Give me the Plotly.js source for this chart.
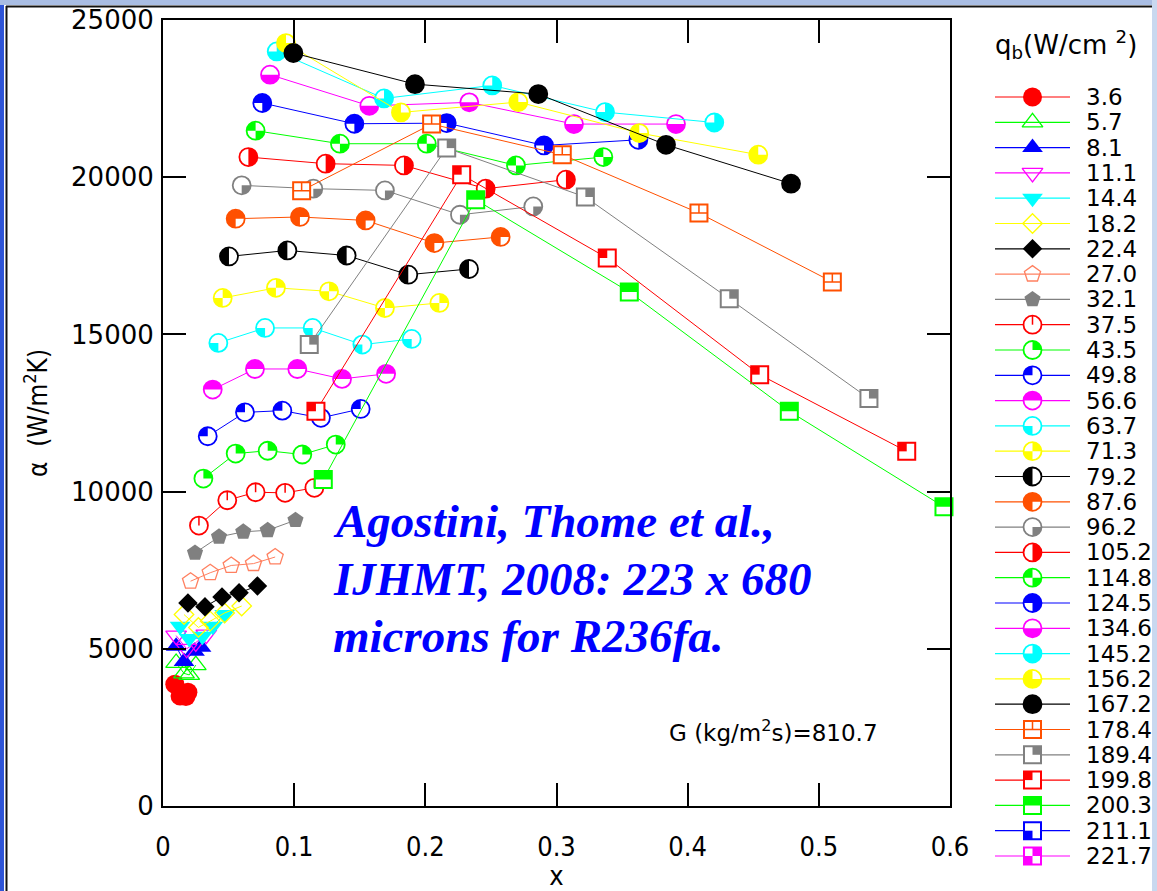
<!DOCTYPE html>
<html>
<head>
<meta charset="utf-8">
<script src="https://cdn.plot.ly/plotly-3.0.1.min.js"></script>
<style>
  html, body { margin: 0; padding: 0; background: #ffffff; }
  #chart { width: 1157px; height: 891px; }
</style>
</head>
<body>
<div id="chart"></div>
<script>
// Heat flux q_b (W/cm^2) of each data set, as printed in the key
const qLabels = ['3.6','5.7','8.1','11.1','14.4','18.2','22.4','27.0','32.1','37.5','43.5','49.8','56.6','63.7','71.3','79.2','87.6','96.2','105.2','114.8','124.5','134.6','145.2','156.2','167.2','178.4','189.4','199.8','200.3','211.1','221.7'];

// Vapour quality x and heat transfer coefficient alpha (W/m2K), one pair per heat flux
const x_3_6   = [0.009, 0.013, 0.0175, 0.019];
const a_3_6   = [3870, 3500, 3480, 3620];
const x_5_7   = [0.010, 0.016, 0.020, 0.025];
const a_5_7   = [4550, 4220, 4170, 4480];
const x_8_1   = [0.010, 0.016, 0.024, 0.029];
const a_8_1   = [5080, 4600, 4920, 5050];
const x_11_1  = [0.010, 0.018, 0.025, 0.033];
const a_11_1  = [5420, 5000, 5200, 5450];
const x_14_4  = [0.013, 0.020, 0.030, 0.038, 0.047];
const a_14_4  = [5720, 5330, 5400, 5720, 6090];
const x_18_2  = [0.016, 0.027, 0.036, 0.047, 0.060];
const a_18_2  = [6090, 5680, 5880, 6140, 6360];
const x_22_4  = [0.019, 0.032, 0.045, 0.058, 0.072];
const a_22_4  = [6460, 6340, 6650, 6780, 7000];
const x_27_0  = [0.021, 0.036, 0.052, 0.069, 0.0855];
const a_27_0  = [7150, 7420, 7650, 7710, 7920];
const x_32_1  = [0.0244, 0.0427, 0.0612, 0.0798, 0.101];
const a_32_1  = [8050, 8560, 8720, 8770, 9090];
const x_37_5  = [0.0274, 0.049, 0.0706, 0.0931, 0.1154];
const a_37_5  = [8920, 9725, 9980, 9960, 10120];
const x_43_5  = [0.0308, 0.0554, 0.0798, 0.1062, 0.1317];
const a_43_5  = [10415, 11210, 11300, 11180, 11495];
const x_49_8  = [0.0341, 0.0625, 0.091, 0.1204, 0.1507];
const a_49_8  = [11760, 12520, 12575, 12345, 12630];
const x_56_6  = [0.0379, 0.0701, 0.1024, 0.1365, 0.1701];
const a_56_6  = [13245, 13900, 13900, 13585, 13745];
const x_63_7  = [0.0422, 0.0778, 0.1141, 0.152, 0.1896];
const a_63_7  = [14730, 15205, 15205, 14675, 14855];
const x_71_3  = [0.0455, 0.0861, 0.1266, 0.1692, 0.2107];
const a_71_3  = [16160, 16480, 16370, 15840, 16000];
const x_79_2  = [0.0503, 0.0948, 0.140, 0.187, 0.2333];
const a_79_2  = [17480, 17670, 17510, 16900, 17080];
const x_87_6  = [0.0554, 0.1044, 0.1545, 0.2069, 0.2574];
const a_87_6  = [18680, 18735, 18625, 17905, 18100];
const x_96_2  = [0.060, 0.1146, 0.1692, 0.2264, 0.2823];
const a_96_2  = [19740, 19635, 19580, 18805, 19070];
const x_105_2 = [0.0651, 0.124, 0.1837, 0.246, 0.3072];
const a_105_2 = [20640, 20430, 20375, 19635, 19920];
const x_114_8 = [0.0706, 0.1349, 0.2011, 0.2691, 0.3357];
const a_114_8 = [21480, 21065, 21065, 20375, 20640];
const x_124_5 = [0.0757, 0.1459, 0.2163, 0.2905, 0.3624];
const a_124_5 = [22360, 21700, 21720, 21010, 21190];
const x_134_6 = [0.0816, 0.1573, 0.2335, 0.3133, 0.3911];
const a_134_6 = [23260, 22270, 22380, 21690, 21690];
const x_145_2 = [0.0867, 0.1685, 0.251, 0.337, 0.4203];
const a_145_2 = [24000, 22505, 22920, 22070, 21740];
const x_156_2 = [0.0938, 0.1814, 0.2709, 0.3631, 0.4538];
const a_156_2 = [24265, 22060, 22390, 21405, 20715];
const x_167_2 = [0.0994, 0.1921, 0.2861, 0.3835, 0.4788];
const a_167_2 = [23950, 22960, 22645, 21030, 19795];
const x_178_4 = [0.1057, 0.2048, 0.3044, 0.4086, 0.5103];
const a_178_4 = [19570, 21690, 20715, 18860, 16670];
const x_189_4 = [0.1115, 0.2163, 0.322, 0.4317, 0.5382];
const a_189_4 = [14675, 20925, 19370, 16135, 12960];
const x_199_8 = [0.1166, 0.2277, 0.3387, 0.4549, 0.567];
const a_199_8 = [12555, 20080, 17430, 13720, 11280];
const x_200_3 = [0.1222, 0.2384, 0.3555, 0.4775, 0.5954];
const a_200_3 = [10385, 19285, 16350, 12555, 9515];
const x_211_1 = [];
const a_211_1 = [];
const x_221_7 = [];
const a_221_7 = [];

const xSeries = [x_3_6, x_5_7, x_8_1, x_11_1, x_14_4, x_18_2, x_22_4, x_27_0, x_32_1,
  x_37_5, x_43_5, x_49_8, x_56_6, x_63_7, x_71_3, x_79_2, x_87_6, x_96_2, x_105_2,
  x_114_8, x_124_5, x_134_6, x_145_2, x_156_2, x_167_2, x_178_4, x_189_4, x_199_8,
  x_200_3, x_211_1, x_221_7];
const aSeries = [a_3_6, a_5_7, a_8_1, a_11_1, a_14_4, a_18_2, a_22_4, a_27_0, a_32_1,
  a_37_5, a_43_5, a_49_8, a_56_6, a_63_7, a_71_3, a_79_2, a_87_6, a_96_2, a_105_2,
  a_114_8, a_124_5, a_134_6, a_145_2, a_156_2, a_167_2, a_178_4, a_189_4, a_199_8,
  a_200_3, a_211_1, a_221_7];

const xTicks = [0, 0.1, 0.2, 0.3, 0.4, 0.5, 0.6];
const yTicks = [0, 5000, 10000, 15000, 20000, 25000];

const noteLines = ['Agostini, Thome et al.,', 'IJHMT, 2008: 223 x 680', 'microns for R236fa.'];
const massFluxNote = 'G (kg/m<sup>2</sup>s)=810.7';
const keyTitle = 'q<sub>b</sub>(W/cm <sup>2</sup>)';

// ---- styling ----
const RED = '#ff0000', GRN = '#00ff00', BLU = '#0000ff', MAG = '#ff00ff', CYN = '#00ffff',
      YEL = '#ffff00', BLK = '#000000', SAL = '#ff8060', GRY = '#808080', ORG = '#ff5000';
const seriesColor = [RED, GRN, BLU, MAG, CYN, YEL, BLK, SAL, GRY,
  RED, GRN, BLU, MAG, CYN, YEL, BLK, ORG, GRY, RED, GRN, BLU, MAG, CYN, YEL, BLK,
  ORG, GRY, RED, GRN, BLU, MAG];

const W = 1157, H = 891;
const px = v => v / W;
const py = v => 1 - v / H;

// quadrant bits: 1 = upper right, 2 = upper left, 4 = lower left, 8 = lower right
function glyphOf(i) {
  if (i >= 9 && i <= 24) return { shape: 'circle', mask: i - 9, r: 9 };
  if (i >= 25) return { shape: 'square', mask: i - 25, r: 8.5 };
  return null;
}

function markerOf(i) {
  const c = seriesColor[i];
  const basic = [
    { symbol: 'circle', size: 19, color: c, line: { width: 0 } },
    { symbol: 'triangle-up-open', size: 18, color: c, line: { width: 1.3, color: c } },
    { symbol: 'triangle-up', size: 18, color: c, line: { width: 0 } },
    { symbol: 'triangle-down-open', size: 18, color: c, line: { width: 1.3, color: c } },
    { symbol: 'triangle-down', size: 18, color: c, line: { width: 0 } },
    { symbol: 'diamond-open', size: 15, color: c, line: { width: 1.3, color: c } },
    { symbol: 'diamond', size: 15, color: c, line: { width: 0 } },
    { symbol: 'pentagon-open', size: 17, color: c, line: { width: 1.3, color: c } },
    { symbol: 'pentagon', size: 17, color: c, line: { width: 0 } }
  ];
  if (i < 9) return basic[i];
  const g = glyphOf(i);
  if (g.shape === 'circle') {
    return { symbol: 'circle', size: 18, color: g.mask === 15 ? c : '#ffffff', line: { color: c, width: 1.8 } };
  }
  return { symbol: 'square', size: 17, color: '#ffffff', line: { color: c, width: 2 } };
}

function quadPath(shape, r, mask) {
  let d = '';
  if (shape === 'circle') {
    if (mask & 1) d += `M0,0V${-r}A${r},${r} 0 0 1 ${r},0Z`;
    if (mask & 2) d += `M0,0H${-r}A${r},${r} 0 0 1 0,${-r}Z`;
    if (mask & 4) d += `M0,0V${r}A${r},${r} 0 0 1 ${-r},0Z`;
    if (mask & 8) d += `M0,0H${r}A${r},${r} 0 0 1 0,${r}Z`;
  } else {
    if (mask & 1) d += `M0,0V${-r}H${r}V0Z`;
    if (mask & 2) d += `M0,0H${-r}V${-r}H0Z`;
    if (mask & 4) d += `M0,0V${r}H${-r}V0Z`;
    if (mask & 8) d += `M0,0H${r}V${r}H0Z`;
  }
  return d;
}

const data = [];
const glyphByUid = {};

// measured curves
qLabels.forEach((q, i) => {
  const uid = 'm' + i;
  data.push({
    type: 'scatter', mode: 'lines+markers', uid: uid,
    x: xSeries[i].length ? xSeries[i] : [null], y: aSeries[i].length ? aSeries[i] : [null],
    xaxis: 'x', yaxis: 'y',
    line: { color: seriesColor[i], width: 1 },
    marker: markerOf(i),
    cliponaxis: false, hoverinfo: 'skip', showlegend: false
  });
  const g = glyphOf(i);
  if (g && g.mask !== 15) glyphByUid[uid] = Object.assign({ color: seriesColor[i] }, g);
});

// key: one short line and one symbol per heat flux (key axis units: line spans 0..1)
const keyRows = qLabels.map((q, i) => i);
keyRows.forEach(i => {
  data.push({
    type: 'scatter', mode: 'lines', uid: 'kl' + i,
    x: [0, 1], y: [i, i], xaxis: 'x2', yaxis: 'y2',
    line: { color: seriesColor[i], width: 1.2 },
    cliponaxis: false, hoverinfo: 'skip', showlegend: false
  });
});
keyRows.forEach(i => {
  const uid = 'km' + i;
  data.push({
    type: 'scatter', mode: 'markers', uid: uid,
    x: [0.5], y: [i], xaxis: 'x2', yaxis: 'y2',
    marker: markerOf(i),
    cliponaxis: false, hoverinfo: 'skip', showlegend: false
  });
  const g = glyphOf(i);
  if (g && g.mask !== 15) glyphByUid[uid] = Object.assign({ color: seriesColor[i] }, g);
});

const annotations = [];
noteLines.forEach((t, k) => {
  annotations.push({
    xref: 'paper', yref: 'paper', x: px(331), y: py(521 + k * 57.5),
    xanchor: 'left', yanchor: 'middle', showarrow: false, text: t,
    font: { family: 'Liberation Serif, Times New Roman, serif', size: 47, color: '#0000ff', weight: 'bold', style: 'italic' }
  });
});
annotations.push({
  xref: 'paper', yref: 'paper', x: px(667), y: py(731), xanchor: 'left', yanchor: 'middle',
  showarrow: false, text: massFluxNote,
  font: { family: 'DejaVu Sans, sans-serif', size: 23, color: '#000000' }
});
annotations.push({
  xref: 'paper', yref: 'paper', x: px(993), y: py(45), xanchor: 'left', yanchor: 'middle',
  showarrow: false, text: keyTitle,
  font: { family: 'DejaVu Sans, sans-serif', size: 26, color: '#000000' }
});
qLabels.forEach((q, i) => {
  annotations.push({
    xref: 'x2', yref: 'y2', x: 1.18, y: i, xanchor: 'left', yanchor: 'middle',
    showarrow: false, text: q,
    font: { family: 'DejaVu Sans, sans-serif', size: 23, color: '#000000' }
  });
});

const shapes = [
  { type: 'rect', xref: 'paper', yref: 'paper', x0: 0, x1: px(4), y0: 0, y1: 1, fillcolor: '#2f55d8', line: { width: 0 } },
  { type: 'rect', xref: 'paper', yref: 'paper', x0: 0, x1: 1, y0: py(5), y1: 1, fillcolor: '#a9bde3', line: { width: 0 } },
  { type: 'rect', xref: 'paper', yref: 'paper', x0: px(1152), x1: 1, y0: 0, y1: 1, fillcolor: '#c9d8ef', line: { width: 0 } },
  { type: 'line', xref: 'paper', yref: 'paper', x0: px(6), x1: px(1152), y0: py(6.5), y1: py(6.5), line: { color: '#111111', width: 2 } },
  { type: 'line', xref: 'paper', yref: 'paper', x0: px(6.5), x1: px(6.5), y0: 0, y1: py(6), line: { color: '#111111', width: 2 } }
];

const axisCommon = {
  showline: true, linewidth: 2, linecolor: '#000000', mirror: 'ticks',
  ticks: 'inside', ticklen: 23, tickwidth: 2, tickcolor: '#000000',
  showgrid: false, zeroline: false, fixedrange: true
};

// key area: line from 995 px to 1070 px, rows 97 px .. 856 px
const keyLeft = 995, keyUnit = 75, keyRight = 1150;
const rowTop = 97, rowBottom = 856, rowStep = (rowBottom - rowTop) / (qLabels.length - 1);

const layout = {
  width: W, height: H,
  margin: { l: 0, r: 0, t: 0, b: 0, pad: 0 },
  paper_bgcolor: '#ffffff', plot_bgcolor: '#ffffff',
  showlegend: false,
  font: { family: 'DejaVu Sans, sans-serif', color: '#000000' },
  xaxis: Object.assign({}, axisCommon, {
    domain: [px(163), px(950)], range: [0, 0.6], anchor: 'y',
    tickvals: xTicks, ticktext: xTicks.map(v => String(v)),
    ticklabelstandoff: 16,
    tickfont: { family: 'DejaVu Sans Condensed, Liberation Sans Narrow, Roboto Condensed, Roboto, sans-serif', size: 27 },
    title: { text: 'x', standoff: 16, font: { family: 'DejaVu Sans Condensed, Liberation Sans Narrow, Roboto, sans-serif', size: 27 } }
  }),
  yaxis: Object.assign({}, axisCommon, {
    domain: [py(806), py(20)], range: [0, 25000], anchor: 'x',
    tickvals: yTicks, ticktext: yTicks.map(v => String(v)),
    ticklabelstandoff: 2,
    tickfont: { family: 'DejaVu Sans, sans-serif', size: 26 },
    title: { text: '\u03b1  (W/m<sup>2</sup>K)', standoff: 16, font: { family: 'DejaVu Sans Condensed, Liberation Sans Narrow, Roboto, sans-serif', size: 26 } }
  }),
  xaxis2: { domain: [px(keyLeft), px(keyRight)], range: [0, (keyRight - keyLeft) / keyUnit], anchor: 'y2', visible: false, fixedrange: true },
  yaxis2: { domain: [py(rowBottom + rowStep), py(rowTop - rowStep)], range: [qLabels.length, -1], anchor: 'x2', visible: false, fixedrange: true },
  annotations: annotations,
  shapes: shapes
};

// partially filled circle / square symbols drawn on top of the plotted points
function addGlyphs(gd) {
  const NS = 'http://www.w3.org/2000/svg';
  Object.keys(glyphByUid).forEach(uid => {
    const g = glyphByUid[uid];
    const grp = gd.querySelector('.trace' + uid);
    if (!grp) return;
    grp.querySelectorAll('path.point').forEach(p => {
      const t = p.getAttribute('transform');
      if (!t) return;
      const el = document.createElementNS(NS, 'path');
      el.setAttribute('transform', t);
      if (g.mask === 0) {
        let d = `M0,${-g.r}V0`;
        if (g.shape === 'square') d += `M${-g.r},0H${g.r}`;
        el.setAttribute('d', d);
        el.setAttribute('style', `fill:none;stroke:${g.color};stroke-width:1.5`);
      } else {
        el.setAttribute('d', quadPath(g.shape, g.r, g.mask));
        el.setAttribute('style', `fill:${g.color};stroke:none`);
      }
      p.parentNode.insertBefore(el, p.nextSibling);
    });
  });
}

Plotly.newPlot('chart', data, layout, { staticPlot: true, displayModeBar: false })
  .then(gd => addGlyphs(gd));
</script>
</body>
</html>
